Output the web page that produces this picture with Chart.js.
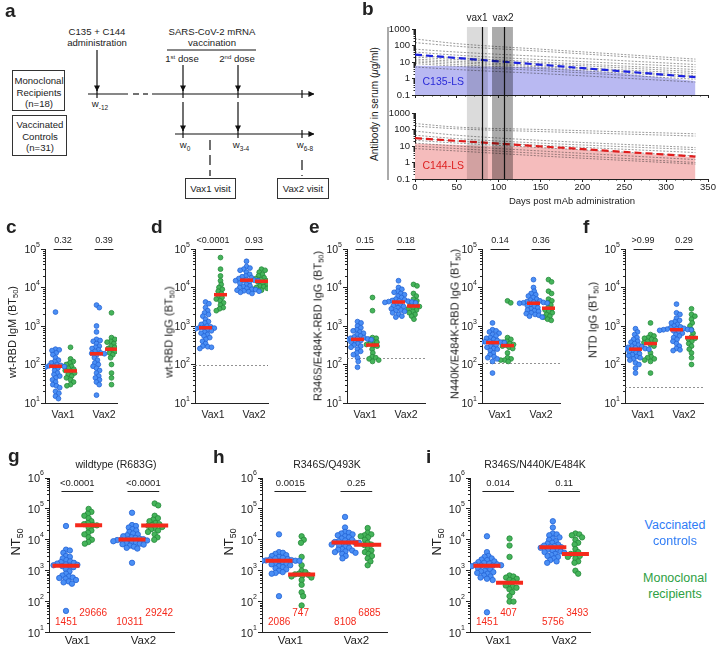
<!DOCTYPE html>
<html>
<head>
<meta charset="utf-8">
<script src="https://cdn.jsdelivr.net/npm/chart.js"></script>
<style>
  body { margin: 0; background: #fff; }
  #fig { position: relative; width: 720px; height: 650px; overflow: hidden; color: #222;
         font-family: 'Liberation Sans', Arial, Helvetica, sans-serif; }
  #fig canvas { position: absolute; }
  .txt { position: absolute; transform: translate(-50%, -50%); white-space: nowrap; line-height: 1; }
  .rot { transform: translate(-50%, -50%) rotate(-90deg); }
  .letter { position: absolute; font-weight: bold; font-size: 19px; line-height: 19px; }
  .sub { font-size: 0.68em; position: relative; top: 0.3em; }
</style>
</head>
<body>
<div id="fig">
  <svg width="360" height="215" style="position:absolute;left:0;top:0" font-family="'Liberation Sans', Arial, Helvetica, sans-serif" font-size="9.6" fill="#222">
    <defs>
      <marker id="ah" viewBox="0 0 8 8" refX="7.5" refY="4" markerWidth="5" markerHeight="5" orient="auto">
        <path d="M0,0 L8,4 L0,8 z" fill="#111"/>
      </marker>
    </defs>
    <g stroke="#111" stroke-width="1.2" fill="none">
      <line x1="97" y1="50" x2="97" y2="91" marker-end="url(#ah)"/>
      <line x1="183" y1="65" x2="183" y2="91" marker-end="url(#ah)"/>
      <line x1="238" y1="65" x2="238" y2="91" marker-end="url(#ah)"/>
      <line x1="183" y1="102" x2="183" y2="131" marker-end="url(#ah)"/>
      <line x1="238" y1="102" x2="238" y2="131" marker-end="url(#ah)"/>
      <line x1="88" y1="94" x2="128" y2="94"/>
      <line x1="133" y1="94" x2="139" y2="94"/>
      <line x1="143" y1="94" x2="148" y2="94"/>
      <line x1="152" y1="94" x2="314" y2="94" marker-end="url(#ah)"/>
      <line x1="175" y1="134" x2="314" y2="134" marker-end="url(#ah)"/>
      <line x1="97" y1="90" x2="97" y2="98"/>
      <line x1="183" y1="90" x2="183" y2="98"/>
      <line x1="238" y1="90" x2="238" y2="98"/>
      <line x1="302" y1="90" x2="302" y2="98"/>
      <line x1="183" y1="130" x2="183" y2="138"/>
      <line x1="238" y1="130" x2="238" y2="138"/>
      <line x1="302" y1="130" x2="302" y2="138"/>
      <line x1="167" y1="50" x2="256" y2="50" stroke-width="1"/>
      <line x1="210" y1="140" x2="210" y2="176" stroke-dasharray="10 5"/>
      <line x1="302" y1="160" x2="302" y2="176" stroke-dasharray="10 5"/>
    </g>
    <g stroke="#333" stroke-width="1" fill="#fff">
      <rect x="12.5" y="70.5" width="52" height="40"/>
      <rect x="12.5" y="115.5" width="54" height="40"/>
      <rect x="185.5" y="178.5" width="50" height="20"/>
      <rect x="277.5" y="178.5" width="51" height="20"/>
    </g>
    <g text-anchor="middle">
      <text x="97" y="35">C135 + C144</text>
      <text x="97" y="46">administration</text>
      <text x="212" y="35">SARS-CoV-2 mRNA</text>
      <text x="212" y="46">vaccination</text>
      <text x="182" y="62">1<tspan font-size="6" dy="-3.5">st</tspan><tspan dy="3.5"> dose</tspan></text>
      <text x="237" y="62">2<tspan font-size="6" dy="-3.5">nd</tspan><tspan dy="3.5"> dose</tspan></text>
      <text x="100" y="107">w<tspan font-size="6.5" dy="2.5">-12</tspan></text>
      <text x="185" y="148">w<tspan font-size="6.5" dy="2.5">0</tspan></text>
      <text x="241" y="148">w<tspan font-size="6.5" dy="2.5">3-4</tspan></text>
      <text x="305" y="148">w<tspan font-size="6.5" dy="2.5">6-8</tspan></text>
      <text x="39" y="83.5">Monoclonal</text>
      <text x="39" y="95.5">Recipients</text>
      <text x="39" y="107">(n=18)</text>
      <text x="40" y="128">Vaccinated</text>
      <text x="40" y="139.5">Controls</text>
      <text x="40" y="151">(n=31)</text>
      <text x="210.5" y="192">Vax1 visit</text>
      <text x="303" y="192">Vax2 visit</text>
    </g>
  </svg>
  <div style="position:absolute;left:387px;top:27px;width:1.6px;height:153px;background:#aaa"></div>
</div>
<script>
const FONT = "'Liberation Sans', Arial, Helvetica, sans-serif";
const BLUE = '#4a8ff5', BLUE_EDGE = '#2563d4';
const GREEN = '#45b45a', GREEN_EDGE = '#25893a';
const RED = '#f52a1c';

Chart.defaults.font.family = FONT;
Chart.defaults.color = '#222';

// ---- panel b: antibody levels after mAb infusion ----
const curveDays = [0, 50, 150, 335];
const c135Curves = [
    [250, 130, 60, 15], [150, 90, 45, 11], [60, 40, 22, 7], [40, 26, 14, 5],
    [25, 18, 10, 3.5], [20, 14, 8, 2.6], [15, 11, 6, 2], [12, 9, 5, 1.5],
    [10, 7, 4, 1.2], [8, 5.5, 3, 0.9], [5, 3.5, 2, 0.6]
];
const c144Curves = [
    [230, 140, 100, 55], [160, 110, 75, 40], [80, 45, 22, 8], [45, 28, 15, 6],
    [30, 20, 11, 4], [22, 15, 8, 2.5], [15, 10, 5, 1.5], [10, 7, 3.5, 1], [7, 5, 2.5, 0.8]
];
const fitDays = [0, 335];
const c135Fit = [28, 1.2];
const c144Fit = [30, 2.3];
const shadeDays = [0, 150, 250, 335];
const c135Shade = [6, 5, 2, 0.7];
const c144Shade = [14, 8, 4, 2.1];
const vaxWindows = [[62, 87], [92, 117]];
const vaxDays = [80, 106];

// ---- panels c-i ----
const visits = ['Vax1', 'Vax2'];

const igmCtrl = [
    [2300, 250, 240, 230, 200, 180, 150, 130, 120, 110, 100, 95, 92, 90, 88, 85, 80, 70, 60, 55, 50, 45, 40, 35, 30, 28, 25, 20, 18, 15, 13],
    [3500, 3000, 1000, 700, 450, 420, 400, 350, 300, 280, 260, 240, 220, 200, 195, 190, 180, 150, 130, 110, 100, 90, 80, 70, 60, 50, 45, 40, 35, 30, 16]
];
const igmMono = [
    [280, 140, 120, 110, 100, 90, 80, 75, 70, 66, 60, 55, 50, 45, 40, 35, 30, 28],
    [2200, 500, 450, 400, 380, 350, 300, 280, 260, 240, 220, 200, 180, 150, 100, 60, 45, 30]
];
const igmMedCtrl = [90, 190], igmMedMono = [68, 250];
const igmP = ['0.32', '0.39'];

const iggCtrl = [
    [4200, 3800, 3000, 2500, 2200, 2000, 1800, 1500, 1300, 1200, 1100, 1000, 950, 900, 900, 880, 850, 800, 750, 700, 650, 600, 550, 500, 450, 400, 350, 300, 290, 280, 260],
    [48000, 35000, 32000, 30000, 28000, 25000, 22000, 20000, 19000, 18000, 17000, 16000, 15500, 15000, 15000, 15000, 14000, 13000, 12000, 11000, 10500, 10000, 9500, 9000, 8800, 8500, 8200, 8000, 7800, 7500, 7000]
];
const iggMono = [
    [60000, 30000, 20000, 15000, 12000, 10000, 9000, 8000, 7000, 6000, 5500, 5000, 4500, 4000, 3500, 3000, 2800, 2500],
    [30000, 28000, 25000, 22000, 20000, 18000, 17000, 16000, 15000, 14000, 13000, 12000, 11000, 10500, 10000, 9500, 9000, 8500]
];
const iggMedCtrl = [900, 15500], iggMedMono = [6500, 14500];
const iggP = ['<0.0001', '0.93'];
const iggLimit = 100;

const e484Ctrl = [
    [1300, 1200, 1000, 900, 800, 750, 700, 650, 600, 550, 520, 500, 480, 470, 460, 450, 440, 420, 400, 380, 350, 320, 300, 280, 250, 220, 200, 180, 150, 120, 85],
    [15000, 10000, 9000, 8000, 7500, 7000, 6500, 6000, 5500, 5000, 4800, 4600, 4500, 4400, 4300, 4200, 4100, 4000, 3800, 3600, 3400, 3200, 3000, 2800, 2600, 2500, 2400, 2200, 2000, 1800, 1700]
];
const e484Mono = [
    [5500, 2500, 500, 480, 450, 400, 380, 350, 330, 310, 300, 250, 200, 160, 150, 140, 130, 120],
    [12000, 11000, 7000, 6000, 5000, 4500, 4000, 3600, 3400, 3200, 3000, 2800, 2600, 2400, 2200, 2000, 1800, 1500]
];
const e484MedCtrl = [450, 4200], e484MedMono = [320, 3300];
const e484P = ['0.15', '0.18'];
const e484Limit = 150;

const n440Ctrl = [
    [1200, 800, 750, 700, 650, 600, 550, 500, 480, 450, 420, 400, 390, 380, 375, 370, 360, 350, 320, 300, 280, 260, 250, 230, 200, 180, 160, 150, 140, 120, 60],
    [16000, 10000, 8000, 7000, 6500, 6000, 5500, 5000, 4700, 4500, 4300, 4200, 4100, 4000, 3950, 3900, 3800, 3600, 3400, 3200, 3000, 2800, 2600, 2500, 2400, 2200, 2100, 2000, 1900, 1800, 1700]
];
const n440Mono = [
    [4500, 4000, 500, 450, 400, 380, 350, 330, 320, 300, 280, 260, 200, 150, 140, 130, 130, 120],
    [16000, 14000, 8000, 7000, 5000, 4500, 4000, 3500, 3000, 2800, 2600, 2400, 2200, 2000, 1800, 1700, 1500, 1400]
];
const n440MedCtrl = [370, 3900], n440MedMono = [310, 2900];
const n440P = ['0.14', '0.36'];
const n440Limit = 110;

const ntdCtrl = [
    [850, 700, 600, 500, 450, 400, 380, 350, 320, 300, 290, 280, 270, 260, 255, 250, 240, 230, 220, 200, 190, 180, 170, 160, 150, 140, 130, 110, 100, 80, 60],
    [3700, 2200, 2000, 1600, 1400, 1300, 1200, 1100, 1000, 950, 900, 870, 850, 830, 810, 800, 790, 770, 750, 700, 650, 600, 550, 500, 450, 400, 350, 300, 260, 240, 230]
];
const ntdMono = [
    [1200, 600, 550, 500, 480, 450, 420, 400, 370, 330, 300, 200, 160, 150, 140, 130, 120, 60],
    [2800, 2000, 1800, 1500, 1200, 1000, 800, 650, 520, 480, 450, 400, 350, 300, 250, 200, 150, 100]
];
const ntdMedCtrl = [250, 800], ntdMedMono = [350, 500];
const ntdP = ['>0.99', '0.29'];
const ntdLimit = 26;

const wtCtrl = [
    [28000, 4800, 4500, 3800, 3000, 2800, 2500, 2200, 2000, 1900, 1800, 1700, 1600, 1550, 1500, 1451, 1400, 1300, 1100, 950, 800, 700, 650, 600, 580, 550, 500, 450, 420, 380, 50],
    [75000, 30000, 28000, 25000, 22000, 20000, 18000, 16000, 15000, 14000, 13000, 12000, 11500, 11000, 10500, 10311, 10000, 9800, 9500, 9000, 8500, 8000, 7800, 7500, 7200, 7000, 6500, 6000, 5500, 5200, 1800]
];
const wtMono = [
    [100000, 80000, 70000, 60000, 50000, 40000, 35000, 32000, 30000, 29332, 25000, 20000, 17000, 15000, 12000, 10000, 8500, 7500],
    [150000, 130000, 60000, 50000, 45000, 40000, 35000, 32000, 30000, 28484, 26000, 24000, 22000, 20000, 18000, 15000, 12000, 10000]
];
const wtMedCtrl = [1451, 10311], wtMedMono = [29666, 29242];
const wtP = ['<0.0001', '<0.0001'];

const q493Ctrl = [
    [15000, 4000, 3800, 3500, 3200, 3000, 2800, 2600, 2500, 2400, 2300, 2200, 2150, 2100, 2090, 2086, 2000, 1900, 1800, 1700, 1600, 1500, 1400, 1300, 1200, 1100, 1000, 900, 850, 800, 150],
    [55000, 25000, 18000, 17000, 16000, 15000, 14000, 13000, 12000, 11000, 10000, 9500, 9000, 8500, 8200, 8108, 8000, 7500, 7000, 6500, 6000, 5500, 5000, 4800, 4500, 4200, 4000, 3800, 3500, 3000, 2500]
];
const q493Mono = [
    [13000, 10000, 8000, 2800, 1500, 1000, 900, 800, 760, 734, 700, 650, 600, 500, 350, 200, 150, 75],
    [24000, 17000, 15000, 14000, 13000, 12000, 10000, 8000, 7000, 6770, 5000, 4500, 4000, 3500, 3000, 2500, 2000, 1500]
];
const q493MedCtrl = [2086, 8108], q493MedMono = [747, 6885];
const q493P = ['0.0015', '0.25'];

const tripleCtrl = [
    [13000, 4000, 3000, 2800, 2500, 2300, 2200, 2000, 1900, 1800, 1700, 1600, 1550, 1500, 1470, 1451, 1400, 1300, 1200, 1100, 1000, 950, 900, 850, 800, 700, 650, 600, 550, 500, 45],
    [40000, 25000, 16000, 15000, 14000, 12000, 11000, 10000, 9000, 8000, 7500, 7000, 6500, 6200, 6000, 5756, 5500, 5000, 4800, 4500, 4200, 4000, 3800, 3500, 3200, 3000, 2800, 2500, 2200, 2000, 1800]
];
const tripleMono = [
    [11000, 6500, 2800, 700, 650, 600, 550, 500, 450, 365, 330, 300, 280, 250, 200, 150, 100, 100],
    [16000, 15000, 14000, 12000, 10000, 8000, 7000, 5000, 4000, 3500, 3486, 3000, 2800, 2500, 2000, 1800, 1000, 800]
];
const tripleMedCtrl = [1451, 5756], tripleMedMono = [407, 3493];
const tripleP = ['0.014', '0.11'];

// ---- layout ----
const fig = document.getElementById('fig');

function makeCanvas(left, top, w, h) {
    const c = document.createElement('canvas');
    c.width = w; c.height = h;
    c.style.left = left + 'px'; c.style.top = top + 'px';
    fig.appendChild(c);
    return c;
}

function text(html, x, y, size, extra) {
    const d = document.createElement('div');
    d.className = 'txt' + (extra && extra.rot ? ' rot' : '');
    d.innerHTML = html;
    d.style.left = x + 'px'; d.style.top = y + 'px';
    d.style.fontSize = size + 'px';
    if (extra && extra.color) d.style.color = extra.color;
    fig.appendChild(d);
}

function letter(ch, x, baseline) {
    const d = document.createElement('div');
    d.className = 'letter'; d.textContent = ch;
    d.style.left = x + 'px'; d.style.top = (baseline - 16) + 'px';
    fig.appendChild(d);
}

function hline(ctx, x1, x2, y) {
    ctx.beginPath(); ctx.moveTo(x1, y); ctx.lineTo(x2, y); ctx.stroke();
}

function powLabel(ctx, e, xr, y, fs) {
    const big = fs + 'px ' + FONT, small = Math.round(fs * 0.68) + 'px ' + FONT;
    ctx.font = small;
    const ws = ctx.measureText(String(e)).width;
    ctx.font = big;
    const wb = ctx.measureText('10').width;
    ctx.fillStyle = '#222';
    ctx.textAlign = 'left';
    ctx.textBaseline = 'middle';
    ctx.fillText('10', xr - ws - wb, y + 1);
    ctx.font = small;
    ctx.fillText(String(e), xr - ws, y - fs * 0.42);
}

// beeswarm: pixel offsets so dots sit side by side (gap = minimum centre distance)
function swarm(vals, pxDec, gap) {
    const pts = vals.map((v, i) => ({ i, y: Math.log10(v) * pxDec }));
    const order = pts.slice().sort((a, b) => b.y - a.y);
    const placed = [];
    const out = new Array(vals.length).fill(0);
    order.forEach(p => {
        const cands = [0];
        placed.forEach(q => {
            const dy = p.y - q.y;
            if (Math.abs(dy) < gap) {
                const dx = Math.sqrt(gap * gap - dy * dy);
                cands.push(q.x + dx, q.x - dx);
            }
        });
        cands.sort((a, b) => Math.abs(a) - Math.abs(b));
        p.x = cands.find(c => placed.every(q => (c - q.x) ** 2 + (p.y - q.y) ** 2 >= gap * gap - 0.01));
        placed.push(p);
        out[p.i] = p.x;
    });
    return out;
}

const row2 = {
    top: 225, height: 200, plotTop: 249, plotBottom: 403, yMin: 10, yMax: 1e5, v1: 18, v2: 59,
    r: 2.4, gap: 3.8, spread: 7.5, barHalf: 6.5, barWidth: 3.5, visitFont: 10.5, visitPad: 6,
    powFont: 10.5, pFont: 9, pLevel: 1e5, pHalf: 0.23, pGap: 4
};
const row3 = {
    top: 425, height: 225, plotTop: 478, plotBottom: 633, yMin: 10, yMax: 1e6, v1: 30, v2: 100,
    r: 2.7, gap: 4.2, spread: 12, barHalf: 13.5, barWidth: 4, visitFont: 11.5, visitPad: 1,
    powFont: 11, pFont: 9.5, pLevel: 3.7e5, pHalf: 0.24, pGap: 3,
    medFont: 10, medCtrlAt: 21, medMonoAt: 41
};

function dotDecor(pn) {
    const R = pn.row;
    return {
        id: 'decor',
        beforeDatasetsDraw(chart) {
            if (!pn.limit) return;
            const { ctx, chartArea: a, scales: { y } } = chart;
            ctx.save();
            ctx.strokeStyle = '#777'; ctx.lineWidth = 0.8; ctx.setLineDash([2, 2]);
            hline(ctx, a.left, a.right, Math.round(y.getPixelForValue(pn.limit)) + 0.5);
            ctx.restore();
        },
        afterDraw(chart) {
            const { ctx, chartArea: a, scales: { x, y } } = chart;
            ctx.save();
            ctx.strokeStyle = '#222'; ctx.lineWidth = 1;
            const lo = Math.round(Math.log10(R.yMin)), hi = Math.round(Math.log10(R.yMax));
            ctx.beginPath();
            for (let e = lo; e < hi; e++) {
                for (let k = 2; k < 10; k++) {
                    const py = Math.round(y.getPixelForValue(k * Math.pow(10, e))) + 0.5;
                    ctx.moveTo(a.left - 2, py); ctx.lineTo(a.left, py);
                }
            }
            ctx.stroke();
            for (let e = lo; e <= hi; e++) powLabel(ctx, e, a.left - 5, y.getPixelForValue(Math.pow(10, e)), R.powFont);

            const py = Math.round(y.getPixelForValue(R.pLevel)) + 0.5;
            ctx.font = R.pFont + 'px ' + FONT;
            ctx.fillStyle = '#222'; ctx.textAlign = 'center'; ctx.textBaseline = 'bottom';
            pn.p.forEach((t, g) => {
                const x1 = x.getPixelForValue(g + 1 - R.pHalf), x2 = x.getPixelForValue(g + 1 + R.pHalf);
                hline(ctx, x1, x2, py);
                ctx.fillText(t, (x1 + x2) / 2, py - R.pGap);
            });

            if (R.medFont) {
                ctx.fillStyle = RED; ctx.font = R.medFont + 'px ' + FONT; ctx.textBaseline = 'middle';
                [0, 1].forEach(g => {
                    const cx = x.getPixelForValue(g + 1);
                    ctx.textAlign = 'right';
                    ctx.fillText(String(pn.medCtrl[g]), cx, y.getPixelForValue(R.medCtrlAt));
                    ctx.textAlign = 'left';
                    ctx.fillText(String(pn.medMono[g]), cx + 2, y.getPixelForValue(R.medMonoAt));
                });
            }
            ctx.restore();
        }
    };
}

function dotPanel(pn) {
    const R = pn.row;
    const w = pn.end - pn.left + 10;
    const canvas = makeCanvas(pn.left, R.top, w, R.height);
    const unit = R.v2 - R.v1;
    const xmin = 1 - R.v1 / unit, xmax = 1 + (pn.end - pn.axis - R.v1) / unit;
    const pxDec = (R.plotBottom - R.plotTop) / Math.log10(R.yMax / R.yMin);
    const side = R.spread / unit;

    const toPoints = (series, sgn) => {
        const out = [];
        series.forEach((vals, g) => {
            const dx = swarm(vals, pxDec, R.gap);
            vals.forEach((v, i) => out.push({ x: g + 1 + sgn * side + dx[i] / unit, y: v }));
        });
        return out;
    };
    const medians = [];
    [0, 1].forEach(g => {
        medians.push({ x: g + 1 - side, y: pn.medCtrl[g] }, { x: g + 1 + side, y: pn.medMono[g] });
    });
    const decades = [];
    for (let v = R.yMin; v <= R.yMax * 1.001; v *= 10) decades.push({ value: v });

    new Chart(canvas, {
        type: 'scatter',
        data: {
            datasets: [
                { data: medians, pointStyle: 'line', pointRadius: R.barHalf, pointBorderColor: RED, pointBorderWidth: R.barWidth, order: 0 },
                { data: toPoints(pn.ctrl, -1), pointRadius: R.r, pointBackgroundColor: BLUE, pointBorderColor: BLUE_EDGE, pointBorderWidth: 0.8, order: 1 },
                { data: toPoints(pn.mono, 1), pointRadius: R.r, pointBackgroundColor: GREEN, pointBorderColor: GREEN_EDGE, pointBorderWidth: 0.8, order: 1 }
            ]
        },
        options: {
            responsive: false, animation: false, events: [],
            layout: { padding: { top: R.plotTop - R.top, right: w - (pn.end - pn.left), left: 0, bottom: 0 } },
            plugins: { legend: { display: false }, tooltip: { enabled: false } },
            scales: {
                x: {
                    type: 'linear', min: xmin, max: xmax,
                    afterBuildTicks: s => { s.ticks = [{ value: 1 }, { value: 2 }]; },
                    afterFit: s => { s.height = R.top + R.height - R.plotBottom; },
                    grid: { display: false, drawTicks: false },
                    border: { color: '#222', width: 1 },
                    ticks: { callback: v => visits[v - 1], font: { size: R.visitFont }, color: '#222', padding: R.visitPad, maxRotation: 0, autoSkip: false }
                },
                y: {
                    type: 'logarithmic', min: R.yMin, max: R.yMax,
                    afterBuildTicks: s => { s.ticks = decades.slice(); },
                    afterFit: s => { s.width = pn.axis - pn.left; },
                    grid: { drawOnChartArea: false, tickLength: 4, tickColor: '#222' },
                    border: { color: '#222', width: 1 },
                    ticks: { display: false }
                }
            }
        },
        plugins: [dotDecor(pn)]
    });
}

function pkDecor(opt) {
    return {
        id: 'pk',
        afterDatasetsDraw(chart) {
            const { ctx, chartArea: a, scales: { x, y } } = chart;
            const y0 = opt.first ? a.top - 2 : 0, y1 = opt.first ? chart.height : a.bottom;
            ctx.save();
            ['rgba(0,0,0,0.14)', 'rgba(0,0,0,0.33)'].forEach((shade, i) => {
                const x0 = x.getPixelForValue(vaxWindows[i][0]), x1 = x.getPixelForValue(vaxWindows[i][1]);
                ctx.fillStyle = shade;
                ctx.fillRect(x0, y0, x1 - x0, y1 - y0);
            });
            ctx.strokeStyle = '#111'; ctx.lineWidth = 1.2;
            vaxDays.forEach(d => {
                const px = Math.round(x.getPixelForValue(d)) + 0.5;
                ctx.beginPath(); ctx.moveTo(px, y0); ctx.lineTo(px, y1); ctx.stroke();
            });
            ctx.fillStyle = opt.textColor; ctx.font = '10.5px ' + FONT;
            ctx.textAlign = 'left'; ctx.textBaseline = 'middle';
            ctx.fillText(opt.name, x.getPixelForValue(9), y.getPixelForValue(0.6));
            ctx.restore();
        },
        afterDraw(chart) {
            const { ctx, chartArea: a, scales: { x, y } } = chart;
            ctx.save();
            ctx.strokeStyle = '#222'; ctx.lineWidth = 1;
            ctx.beginPath();
            for (let e = -1; e < 3; e++) {
                for (let k = 2; k < 10; k++) {
                    const py = Math.round(y.getPixelForValue(k * Math.pow(10, e))) + 0.5;
                    ctx.moveTo(a.left - 1.5, py); ctx.lineTo(a.left, py);
                }
            }
            for (let d = 10; d < 350; d += 10) {
                if (d % 50 === 0) continue;
                const px = Math.round(x.getPixelForValue(d)) + 0.5;
                ctx.moveTo(px, a.bottom); ctx.lineTo(px, a.bottom + 1.5);
            }
            ctx.stroke();
            ctx.restore();
        }
    };
}

const pairs = (xs, ys) => xs.map((d, i) => ({ x: d, y: ys[i] }));

function pkChart(opt) {
    const canvas = makeCanvas(380, opt.top, 340, opt.height);
    const datasets = [
        { data: pairs(fitDays, opt.fit), borderColor: opt.color, borderWidth: 2.2, borderDash: [7, 4], order: 0 },
        ...opt.curves.map(c => ({
            data: pairs(curveDays, c), borderColor: 'rgba(45,45,45,0.8)', borderWidth: 0.6,
            borderDash: [2, 1.5], cubicInterpolationMode: 'monotone', order: 1
        })),
        { data: pairs(shadeDays, opt.shade), borderWidth: 0, borderColor: 'transparent', backgroundColor: opt.fill, fill: 'start', order: 2 }
    ];
    new Chart(canvas, {
        type: 'line',
        data: { datasets },
        options: {
            responsive: false, animation: false, events: [],
            elements: { point: { radius: 0 } },
            layout: { padding: { top: opt.padTop, right: 12, left: 0, bottom: 0 } },
            plugins: { legend: { display: false }, tooltip: { enabled: false } },
            scales: {
                x: {
                    type: 'linear', min: 0, max: 350,
                    afterFit: s => { s.height = opt.xHeight; },
                    ticks: { stepSize: 50, display: !opt.first, font: { size: 9.5 }, color: '#222', padding: 0, maxRotation: 0 },
                    grid: { drawOnChartArea: false, tickLength: 3, tickColor: '#222' },
                    border: { color: '#222' }
                },
                y: {
                    type: 'logarithmic', min: 0.1, max: 1000,
                    afterBuildTicks: s => { s.ticks = [0.1, 1, 10, 100, 1000].map(v => ({ value: v })); },
                    afterFit: s => { s.width = 35; },
                    ticks: { callback: v => String(v), font: { size: 9.5 }, color: '#222', padding: 2 },
                    grid: { drawOnChartArea: false, tickLength: 3, tickColor: '#222' },
                    border: { color: '#222' }
                }
            }
        },
        plugins: [pkDecor(opt)]
    });
}

pkChart({ first: true, top: 8, height: 96, padTop: 21, xHeight: 9, curves: c135Curves, fit: c135Fit, shade: c135Shade,
          color: '#1c22e0', fill: '#b9b9f2', textColor: '#2a2ad8', name: 'C135-LS' });
pkChart({ first: false, top: 104, height: 106, padTop: 9, xHeight: 31, curves: c144Curves, fit: c144Fit, shade: c144Shade,
          color: '#e01c1c', fill: '#f5bcbc', textColor: '#dd2020', name: 'C144-LS' });

[
    { row: row2, left: 0, axis: 45, end: 117, ctrl: igmCtrl, mono: igmMono, medCtrl: igmMedCtrl, medMono: igmMedMono, p: igmP },
    { row: row2, left: 150, axis: 195, end: 268, ctrl: iggCtrl, mono: iggMono, medCtrl: iggMedCtrl, medMono: iggMedMono, p: iggP, limit: iggLimit },
    { row: row2, left: 302, axis: 347, end: 425, ctrl: e484Ctrl, mono: e484Mono, medCtrl: e484MedCtrl, medMono: e484MedMono, p: e484P, limit: e484Limit },
    { row: row2, left: 437, axis: 482, end: 560, ctrl: n440Ctrl, mono: n440Mono, medCtrl: n440MedCtrl, medMono: n440MedMono, p: n440P, limit: n440Limit },
    { row: row2, left: 580, axis: 625, end: 703, ctrl: ntdCtrl, mono: ntdMono, medCtrl: ntdMedCtrl, medMono: ntdMedMono, p: ntdP, limit: ntdLimit },
    { row: row3, left: 0, axis: 49, end: 182, ctrl: wtCtrl, mono: wtMono, medCtrl: wtMedCtrl, medMono: wtMedMono, p: wtP },
    { row: row3, left: 213, axis: 262, end: 395, ctrl: q493Ctrl, mono: q493Mono, medCtrl: q493MedCtrl, medMono: q493MedMono, p: q493P },
    { row: row3, left: 421, axis: 470, end: 598, ctrl: tripleCtrl, mono: tripleMono, medCtrl: tripleMedCtrl, medMono: tripleMedMono, p: tripleP }
].forEach(dotPanel);

// ---- texts ----
const BT = '(BT<span class="sub">50</span>)';
text('wt-RBD IgM ' + BT, 12, 332, 11, { rot: true });
text('wt-RBD IgG ' + BT, 169, 332, 11, { rot: true });
text('R346S/E484K-RBD IgG ' + BT, 318, 326, 11, { rot: true });
text('N440K/E484K-RBD IgG ' + BT, 455, 324, 11, { rot: true });
text('NTD IgG ' + BT, 593, 320, 11, { rot: true });
text('NT<span class="sub">50</span>', 15, 542, 13, { rot: true });
text('NT<span class="sub">50</span>', 228, 542, 13, { rot: true });
text('NT<span class="sub">50</span>', 436, 542, 13, { rot: true });
text('wildtype (R683G)', 116, 464, 10.5);
text('R346S/Q493K', 327, 464, 10.5);
text('R346S/N440K/E484K', 535, 464, 10.5);
text('Antibody in serum (<i>μ</i>g/ml)', 375, 104, 10, { rot: true });
text('Days post mAb administration', 572, 201, 9.5);
text('vax1', 477, 18, 10);
text('vax2', 503, 18, 10);
text('Vaccinated', 675, 525, 12.5, { color: '#2f7cf6' });
text('controls', 675, 541, 12.5, { color: '#2f7cf6' });
text('Monoclonal', 675, 578, 12.5, { color: '#2ea043' });
text('recipients', 675, 594, 12.5, { color: '#2ea043' });

letter('a', 5, 17);
letter('b', 362, 15);
letter('c', 6, 233);
letter('d', 151, 233);
letter('e', 309, 233);
letter('f', 583, 233);
letter('g', 8, 462);
letter('h', 213, 463);
letter('i', 426, 463);
</script>
</body>
</html>
